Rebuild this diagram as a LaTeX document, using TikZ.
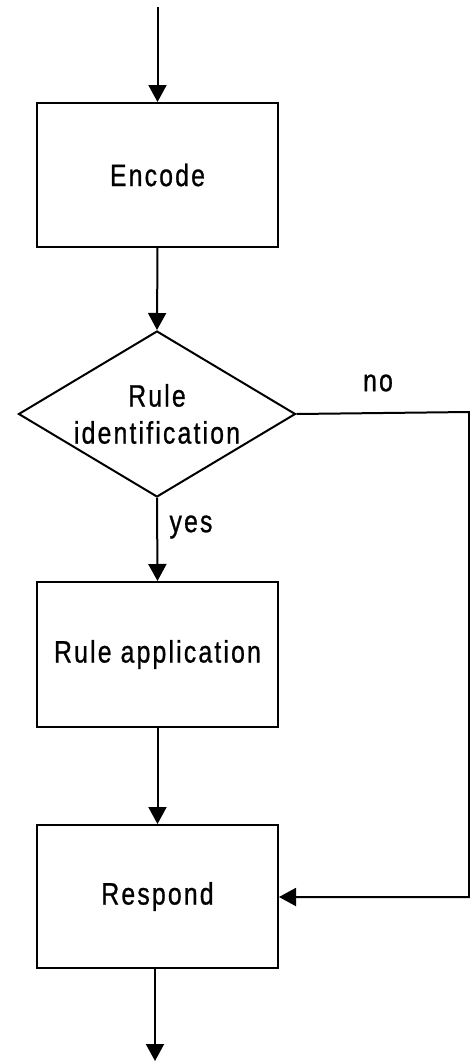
\documentclass[tikz,border=0pt]{standalone}
\usepackage{fontspec}
\setmainfont{Liberation Sans}[FakeStretch=0.8, LetterSpace=7, FakeBold=0.8]
\usetikzlibrary{arrows.meta,shapes.geometric}
\begin{document}
\begin{tikzpicture}[x=1pt,y=-1pt,
  line width=2pt,
  arr/.style={-{Triangle[length=17pt,width=18pt]}},
  procbox/.style={draw, rectangle, minimum width=241pt, inner sep=0pt},
  lbl/.style={font=\fontsize{31}{37}\selectfont, align=center, inner sep=0pt},
]
\useasboundingbox (0,0) rectangle (470,1061);
\coordinate (start) at (157.5,7);
\node[procbox, minimum height=144pt] (enc) at (157.5,175) {};
\node[lbl] (enct) at (enc.center) {Encode};
\node[draw, diamond, minimum width=277pt, minimum height=166pt, inner sep=0pt] (dec) at (157,414) {};
\node[lbl] (dect) at (dec.center) {Rule\\identification};
\node[procbox, minimum height=145pt] (app) at (157.5,654.5) {};
\node[lbl] (appt) at (app.center) {Rule application};
\node[procbox, minimum height=143pt] (resp) at (157.5,896.5) {};
\node[lbl] (respt) at (resp.center) {Respond};
\coordinate (endc) at (155,1061);
\coordinate (c1) at (469,412);
\coordinate (c2) at (469,897);
\node[lbl] (no) at (378,383) {no};
\node[lbl] (yes) at (191,527) {yes};
\draw[arr] (start) -- (enc.north);
\draw[arr] (enc.south) -- (dec.north);
\draw[arr] (dec.south) -- (app.north);
\draw[arr] (app.south) -- (resp.north);
\draw[arr] (resp.south -| endc) -- (endc);
\draw[arr] (dec.east) -- (c1) -- (c2) -- (resp.east |- c2);
\end{tikzpicture}
\end{document}
